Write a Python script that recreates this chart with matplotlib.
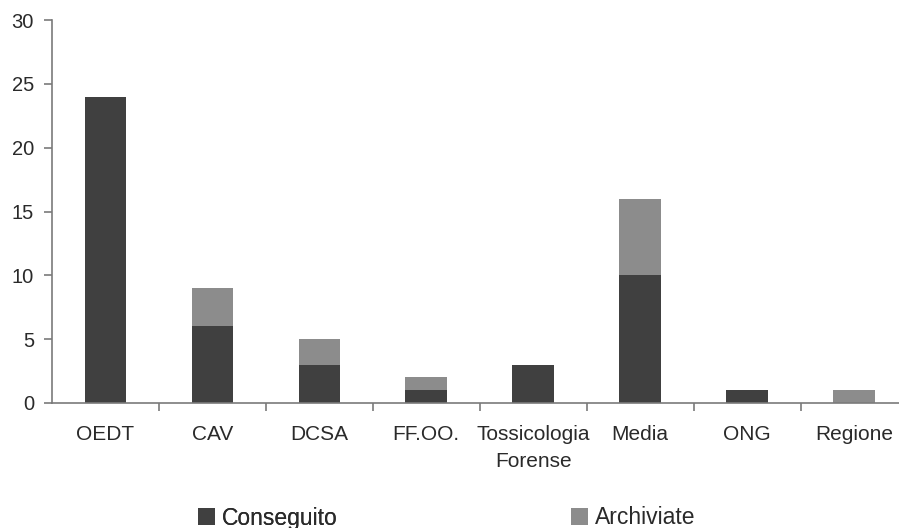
import matplotlib
matplotlib.use("Agg")
import matplotlib.pyplot as plt
import numpy as np
from matplotlib.patches import Patch

plt.rcParams['font.family'] = ['Liberation Sans', 'DejaVu Sans']

categories = ["OEDT", "CAV", "DCSA", "FF.OO.", "Tossicologia\nForense", "Media", "ONG", "Regione"]
conseguito = [24, 6, 3, 1, 3, 10, 1, 0]
archiviate = [0, 3, 2, 1, 0, 6, 0, 1]
yticks = [0, 5, 10, 15, 20, 25, 30]

dark = "#404040"
light = "#8c8c8c"
axis_col = "#7a7a7a"
text_col = "#2a2a2a"

W, H = 899, 528
fig = plt.figure(figsize=(W / 100, H / 100), dpi=100)
ax = fig.add_axes([52 / W, (H - 403) / H, (899 - 52) / W, (403 - 20) / H])

x = np.arange(len(categories))
ax.bar(x, conseguito, width=0.39, color=dark, label="Conseguito")
ax.bar(x, archiviate, width=0.39, bottom=conseguito, color=light, label="Archiviate")

ax.set_xlim(-0.5, 7.42)
ax.set_ylim(0, 30)
ax.set_yticks(yticks)
ax.set_yticklabels([str(v) for v in yticks], fontsize=14.5, color=text_col)
ax.set_xticks(x)
ax.set_xticklabels(categories, fontsize=15, color=text_col, linespacing=1.55)
ax.set_xticks(np.arange(0.5, 7.0, 1.0), minor=True)
ax.tick_params(axis='x', which='major', length=0, pad=16)
ax.tick_params(axis='x', which='minor', length=5.5, color=axis_col, width=1.2, direction='out')
ax.tick_params(axis='y', length=6, color=axis_col, width=1.2, direction='out', pad=7)
for s in ["top", "right"]:
    ax.spines[s].set_visible(False)
for s in ["left", "bottom"]:
    ax.spines[s].set_color(axis_col)
    ax.spines[s].set_linewidth(1.2)

h1 = Patch(facecolor=dark, edgecolor='none')
h2 = Patch(facecolor=light, edgecolor='none')
kw = dict(loc='center left', frameon=False, fontsize=16.5, handlelength=0.75, handleheight=0.75,
          handletextpad=0.3, borderpad=0, borderaxespad=0, labelcolor=text_col)
leg1 = fig.legend([h1], ["Conseguito"], bbox_to_anchor=(198 / W, (H - 518) / H), **kw)
fig.add_artist(leg1)
leg2 = fig.legend([h2], ["Archiviate"], bbox_to_anchor=(571 / W, (H - 518) / H), **kw)

fig.savefig("out.png", dpi=100)
